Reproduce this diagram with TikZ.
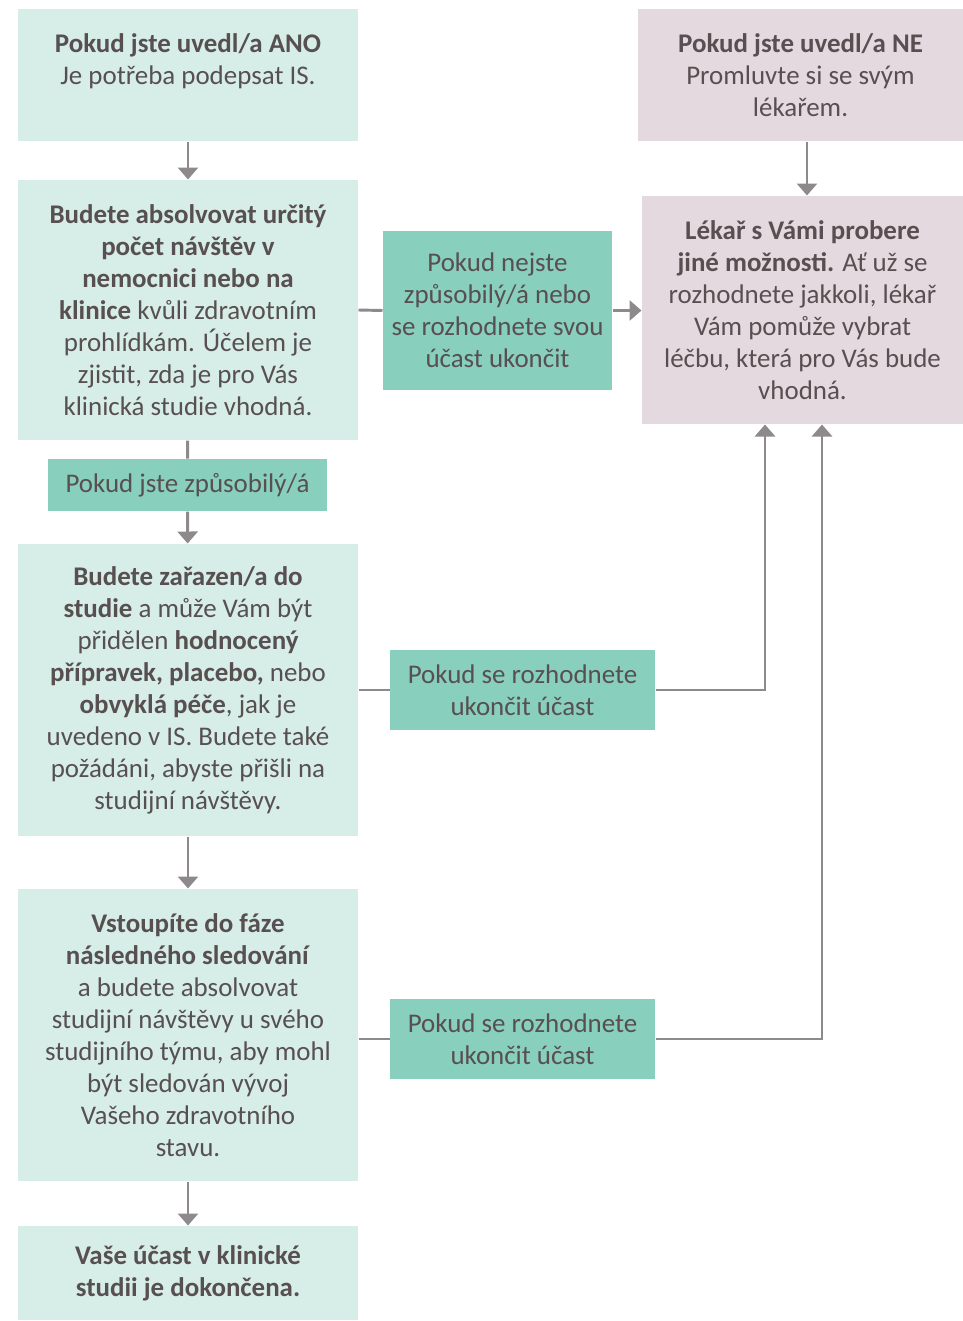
\documentclass[tikz,border=0pt]{standalone}
\usepackage{fontspec}
\setmainfont{Carlito}
\usetikzlibrary{arrows.meta,calc}

\definecolor{mintbg}{HTML}{D7EDE7}
\definecolor{tealbg}{HTML}{88CFBE}
\definecolor{mauvebg}{HTML}{E3D9DF}
\definecolor{linegray}{HTML}{8E8A8B}
\definecolor{txtgray}{HTML}{574F50}

\tikzset{every picture/.style={line width=0.75pt}}
\tikzset{
  stepbox/.style={fill=mintbg, inner sep=0pt, align=center, text=txtgray,
    font=\fontsize{20.2}{24}\selectfont},
  ifbox/.style={stepbox, fill=tealbg},
  docbox/.style={stepbox, fill=mauvebg},
  conn/.style={draw=linegray, line width=2.2pt},
  arr/.style={conn, -{Triangle[width=15pt,length=9pt]}}
}

\begin{document}
\begin{tikzpicture}[x=0.75pt,y=0.75pt,yscale=-1,xscale=1]
\path[use as bounding box] (0,0) rectangle (963,1321);

% left column
\node[stepbox, minimum width=255pt, minimum height=99pt] (ano) at (188,75)
  {\textbf{Pokud jste uvedl/a ANO}\\Je potřeba podepsat IS.\\\mbox{}};
\node[stepbox, minimum width=255pt, minimum height=195pt] (visits) at (188,310)
  {\textbf{Budete absolvovat určitý}\\\textbf{počet návštěv v}\\\textbf{nemocnici nebo na}\\\textbf{klinice} kvůli zdravotním\\prohlídkám. Účelem je\\zjistit, zda je pro Vás\\klinická studie vhodná.};
\node[ifbox, minimum width=209.25pt, minimum height=39pt] (eligible) at (187.5,485)
  {Pokud jste způsobilý/á};
\node[stepbox, minimum width=255pt, minimum height=219pt] (enrol) at (188,690)
  {\textbf{Budete zařazen/a do}\\\textbf{studie} a může Vám být\\přidělen \textbf{hodnocený}\\\textbf{přípravek, placebo,} nebo\\\textbf{obvyklá péče}, jak je\\uvedeno v IS. Budete také\\požádáni, abyste přišli na\\studijní návštěvy.};
\node[stepbox, minimum width=255pt, minimum height=219pt] (followup) at (188,1035)
  {\textbf{Vstoupíte do fáze}\\\textbf{následného sledování}\\a budete absolvovat\\studijní návštěvy u svého\\studijního týmu, aby mohl\\být sledován vývoj\\Vašeho zdravotního\\stavu.};
\node[stepbox, minimum width=255pt, minimum height=70.5pt] (done) at (188,1273)
  {\textbf{Vaše účast v klinické}\\\textbf{studii je dokončena.}};

% middle column
\node[ifbox, minimum width=171.75pt, minimum height=119.25pt] (notelig) at (497.5,310.5)
  {Pokud nejste\\způsobilý/á nebo\\se rozhodnete svou\\účast ukončit};
\node[ifbox, minimum width=198.75pt, minimum height=60pt] (quit1) at (522.5,690)
  {Pokud se rozhodnete\\ukončit účast};
\node[ifbox, minimum width=198.75pt, minimum height=60pt] (quit2) at (522.5,1039)
  {Pokud se rozhodnete\\ukončit účast};

% right column
\node[docbox, minimum width=243.75pt, minimum height=99pt] (ne) at (800.5,75)
  {\textbf{Pokud jste uvedl/a NE}\\Promluvte si se svým\\lékařem.};
\node[docbox, minimum width=240.75pt, minimum height=171pt] (doctor) at (802.5,310)
  {\textbf{Lékař s Vámi probere}\\\textbf{jiné možnosti.} Ať už se\\rozhodnete jakkoli, lékař\\Vám pomůže vybrat\\léčbu, která pro Vás bude\\vhodná.};

% connectors
\coordinate (nedrop) at ($(ne.south)+(6.5,0)$);
\coordinate (quit1up) at ($(doctor.south)+(-37.5,0)$);
\coordinate (quit2up) at ($(doctor.south)+(19.5,0)$);
\draw[arr] (ano) -- (visits);
\draw[conn] (visits) -- (eligible);
\draw[arr] (eligible) -- (enrol);
\draw[arr] (enrol) -- (followup);
\draw[arr] (followup) -- (done);
\draw[arr] (nedrop) -- (nedrop |- doctor.north);
\draw[conn] (visits.east) -- (notelig.west);
\draw[arr] (notelig.east) -- (doctor.west |- notelig.east);
\draw[conn] (enrol.east) -- (quit1.west);
\draw[arr] (quit1.east) -| (quit1up);
\draw[conn] (quit2.west -| followup.east) -- (quit2.west);
\draw[arr] (quit2.east) -| (quit2up);

\end{tikzpicture}
\end{document}
